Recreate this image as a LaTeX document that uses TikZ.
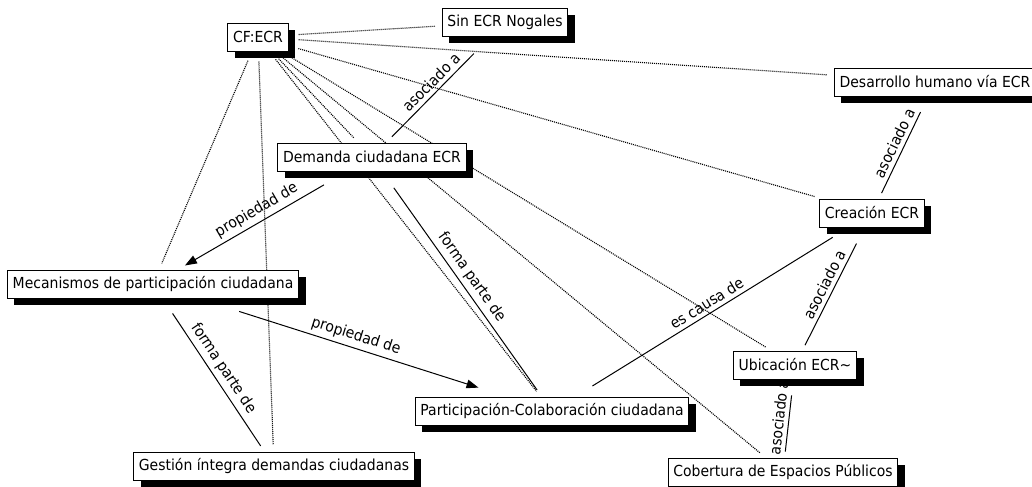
\documentclass[tikz,border=0pt]{standalone}
\usepackage{fontspec}
\setmainfont{DejaVu Sans}[FakeStretch=0.92]
\usetikzlibrary{arrows.meta}
\usetikzlibrary{shadows}
\usetikzlibrary{backgrounds}

\tikzset{
  code/.style={draw, line width=0.75pt, fill=white, inner xsep=4pt, minimum height=21pt,
    font=\fontsize{11.4}{13}\selectfont,
    drop shadow={shadow xshift=5.25pt, shadow yshift=-5.25pt, opacity=1, fill=black}},
  cooc/.style={line width=0.85pt, dash pattern={on 0.75pt off 0.75pt}, shorten <=7.5pt, shorten >=5pt},
  rel/.style={line width=0.75pt},
  relarrow/.style={rel, -{Triangle[length=9pt,width=6.5pt]}},
  lbl/.style={sloped, above, midway, inner sep=3pt, font=\fontsize{11.4}{13}\selectfont},
}

\begin{document}
\begin{tikzpicture}[x=0.75pt,y=-0.75pt]
\useasboundingbox (0,0) rectangle (1032,486);
\clip (0,0) rectangle (1032,486);

% Text Node
\node [code] (cf) at (258,37) {CF:ECR};
% Text Node
\node [code] (sin) at (505,22) {Sin ECR Nogales};
% Text Node
\node [code] (des) at (935,82) {Desarrollo humano vía ECR};
% Text Node
\node [code] (dem) at (372,157) {Demanda ciudadana ECR};
% Text Node
\node [code] (cre) at (872,213) {Creación ECR};
% Text Node
\node [code] (mec) at (153,284) {Mecanismos de participación ciudadana};
% Text Node
\node [code] (ubi) at (795,365) {Ubicación ECR\textasciitilde};
% Text Node
\node [code] (par) at (552,411) {Participación-Colaboración ciudadana};
% Text Node
\node [code] (ges) at (274,466) {Gestión íntegra demandas ciudadanas};
% Text Node
\node [code] (cob) at (783,472) {Cobertura de Espacios Públicos};

\begin{scope}[on background layer]
%Dotted Lines from CF:ECR
\foreach \n in {sin,des,cre,ubi,cob,par,dem,mec,ges}
  \draw [cooc] (cf) -- (\n);

%Straight Lines
\draw [rel, shorten <=18pt, shorten >=6pt] (sin) -- (dem) node [lbl] {asociado a};
\draw [rel, shorten <=13pt, shorten >=4.5pt] (des) -- (cre) node [lbl] {asociado a};
\draw [relarrow, shorten <=20pt, shorten >=6pt] (dem) -- (mec) node [lbl] {propiedad de};
\draw [rel, shorten <=15pt, shorten >=6pt] (dem) -- (par) node [lbl] {forma parte de};
\draw [rel, shorten <=13.5pt, shorten >=5pt] (mec) -- (ges) node [lbl] {forma parte de};
\draw [relarrow, shorten <=32pt, shorten >=22pt] (mec) -- (par) node [lbl] {propiedad de};
\draw [rel, shorten <=14pt, shorten >=15pt] (cre) -- (par) node [lbl] {es causa de};
\draw [rel, shorten <=13.5pt, shorten >=4.5pt] (cre) -- (ubi) node [lbl] {asociado a};
\draw [rel, shorten <=12pt, shorten >=4.5pt] (ubi) -- (cob) node [lbl] {asociado a};
\end{scope}

\end{tikzpicture}
\end{document}
